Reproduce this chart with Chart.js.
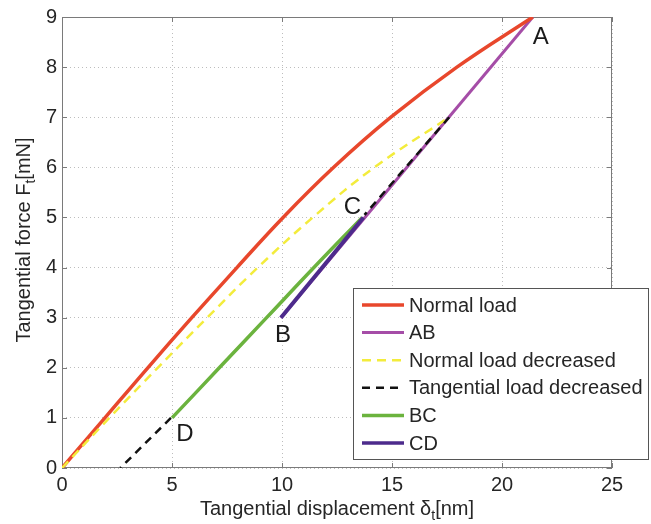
<!DOCTYPE html>
<html>
<head>
<meta charset="utf-8">
<script src="https://cdn.jsdelivr.net/npm/chart.js@4.4.1/dist/chart.umd.min.js"></script>
<style>
  html, body { margin: 0; padding: 0; background: #fff; }
  #wrap { width: 651px; height: 524px; position: relative; }
</style>
</head>
<body>
<div id="wrap"><canvas id="myChart"></canvas></div>
<script>
// tangential displacement [nm] / tangential force [mN]
const normalLoadX = [0, 1.95, 3.9, 5.9, 7.95, 10.05, 12.35, 14.95, 17.95, 21.4];
const normalLoadY = [0, 1, 2, 3, 4, 5, 6, 7, 8, 9];

const abX = [21.4, 9.95];
const abY = [9, 3];

const normalDecX = [0, 2.15, 4.35, 6.6, 8.9, 11.4, 14.2, 17.6];
const normalDecY = [0, 1, 2, 3, 4, 5, 6, 7];

// tangential unloading: upper piece (from the normal-load-decreased end) and lower piece (from D)
const tangDecUpperX = [17.6, 13.75];
const tangDecUpperY = [7, 5.05];
const tangDecLowerX = [4.95, 2.65];
const tangDecLowerY = [1, 0];

const bcX = [5, 7.15, 9.3, 11.45, 13.65];
const bcY = [1, 2, 3, 4, 5];

const cdX = [9.95, 13.7];
const cdY = [3, 5];

// named points on the loop
const pointNames = ['A', 'B', 'C', 'D'];
const pointX = [21.4, 9.95, 13.7, 5];
const pointY = [9, 3, 5, 1];

const xTicks = [0, 5, 10, 15, 20, 25];
const yTicks = [0, 1, 2, 3, 4, 5, 6, 7, 8, 9];

const FONT = '"Liberation Sans", Arial, Helvetica, sans-serif';
const TEXT = '#262626';

const toPoints = (xs, ys) => xs.map((x, i) => ({ x, y: ys[i] }));

// frame around the plot with inward tick marks on every side
const axesBox = {
    id: 'axesBox',
    beforeDatasetsDraw(chart) {
        const { ctx, chartArea: { left, right, top, bottom }, scales: { x, y } } = chart;
        ctx.save();
        ctx.strokeStyle = '#7a7a7a';
        ctx.lineWidth = 1;
        ctx.strokeRect(left + 0.5, top + 0.5, right - left - 1, bottom - top - 1);
        ctx.beginPath();
        xTicks.forEach((v) => {
            const px = Math.round(x.getPixelForValue(v)) + 0.5;
            ctx.moveTo(px, bottom); ctx.lineTo(px, bottom - 5);
            ctx.moveTo(px, top); ctx.lineTo(px, top + 5);
        });
        yTicks.forEach((v) => {
            const py = Math.round(y.getPixelForValue(v)) + 0.5;
            ctx.moveTo(left, py); ctx.lineTo(left + 5, py);
            ctx.moveTo(right, py); ctx.lineTo(right - 5, py);
        });
        ctx.stroke();
        ctx.restore();
    }
};

// text made of normal and subscript parts, centred on x
const drawParts = (ctx, parts, cx, baseline, size) => {
    const subSize = Math.round(size * 0.7);
    let total = 0;
    parts.forEach((p) => {
        ctx.font = `${p.sub ? subSize : size}px ${FONT}`;
        total += ctx.measureText(p.t).width;
    });
    let xPos = cx - total / 2;
    parts.forEach((p) => {
        ctx.font = `${p.sub ? subSize : size}px ${FONT}`;
        ctx.fillText(p.t, xPos, baseline + (p.sub ? 5 : 0));
        xPos += ctx.measureText(p.t).width;
    });
};

const axisTitles = {
    id: 'axisTitles',
    afterDraw(chart) {
        const { ctx } = chart;
        ctx.save();
        ctx.fillStyle = TEXT;
        ctx.textAlign = 'left';
        ctx.textBaseline = 'alphabetic';
        drawParts(ctx, [{ t: 'Tangential displacement δ' }, { t: 't', sub: true }, { t: '[nm]' }], 337, 515, 20);
        ctx.translate(30, 240);
        ctx.rotate(-Math.PI / 2);
        drawParts(ctx, [{ t: 'Tangential force F' }, { t: 't', sub: true }, { t: '[mN]' }], 0, 0, 20);
        ctx.restore();
    }
};

// letters next to the loop corners
const pointLetters = {
    id: 'pointLetters',
    afterDraw(chart) {
        const { ctx, scales: { x, y } } = chart;
        const offsets = { A: [8, 20], B: [2, 18], C: [-11, -10], D: [13, 16] };
        ctx.save();
        ctx.fillStyle = '#1a1a1a';
        ctx.font = `24px ${FONT}`;
        ctx.textAlign = 'center';
        ctx.textBaseline = 'middle';
        pointNames.forEach((name, i) => {
            const [dx, dy] = offsets[name];
            ctx.fillText(name, x.getPixelForValue(pointX[i]) + dx, y.getPixelForValue(pointY[i]) + dy);
        });
        ctx.restore();
    }
};

// boxed legend sitting over the lower right corner of the plot
const boxLegend = {
    id: 'boxLegend',
    afterDraw(chart) {
        const { ctx } = chart;
        const items = chart.data.datasets.filter((ds) => ds.label);
        const left = 353.5, top = 288.5, width = 295, height = 171;
        ctx.save();
        ctx.fillStyle = '#fff';
        ctx.fillRect(left, top, width, height);
        ctx.strokeStyle = '#555';
        ctx.lineWidth = 1;
        ctx.strokeRect(left, top, width, height);
        items.forEach((ds, i) => {
            const rowY = 305 + i * 27.6;
            ctx.beginPath();
            ctx.strokeStyle = ds.borderColor;
            ctx.lineWidth = Math.min(ds.borderWidth, 3.5);
            ctx.setLineDash(ds.borderDash || []);
            ctx.moveTo(362, rowY);
            ctx.lineTo(404, rowY);
            ctx.stroke();
            ctx.setLineDash([]);
            ctx.fillStyle = TEXT;
            ctx.font = `20px ${FONT}`;
            ctx.textAlign = 'left';
            ctx.textBaseline = 'middle';
            ctx.fillText(ds.label, 409, rowY + 1);
        });
        ctx.restore();
    }
};

const line = (label, data, color, width, extra) => Object.assign({
    label,
    data,
    borderColor: color,
    backgroundColor: color,
    borderWidth: width,
    pointRadius: 0,
    fill: false,
    tension: 0,
}, extra);

const ctx = document.getElementById('myChart');

new Chart(ctx, {
    type: 'line',
    data: {
        datasets: [
            line('Normal load', toPoints(normalLoadX, normalLoadY), '#e8472c', 3.5, { tension: 0.4, order: 2 }),
            line('AB', toPoints(abX, abY), '#a54da7', 3, { order: 6 }),
            line('Normal load decreased', toPoints(normalDecX, normalDecY), '#f3ec3c', 2.5, { tension: 0.4, borderDash: [9, 6], order: 1 }),
            line('Tangential load decreased', toPoints(tangDecUpperX, tangDecUpperY), '#111', 2.5, { borderDash: [8, 6], order: 0 }),
            line('BC', toPoints(bcX, bcY), '#6bb33e', 3.5, { tension: 0.4, order: 5 }),
            line('CD', toPoints(cdX, cdY), '#4d2b8c', 4, { order: 4 }),
            line('', toPoints(tangDecLowerX, tangDecLowerY), '#111', 2.5, { borderDash: [8, 6], order: 0 }),
        ]
    },
    options: {
        responsive: true,
        maintainAspectRatio: false,
        animation: false,
        layout: { padding: { top: 13, right: 39, left: 0, bottom: 0 } },
        scales: {
            x: {
                type: 'linear',
                min: 0,
                max: 25,
                afterFit(scale) { scale.height = 56; },
                afterBuildTicks(scale) { scale.ticks = xTicks.map((v) => ({ value: v })); },
                ticks: { font: { size: 20, family: FONT }, color: TEXT, padding: 5 },
                grid: { color: '#bdbdbd', lineWidth: 1, drawTicks: false },
                border: { display: false, dash: [1, 3] },
            },
            y: {
                type: 'linear',
                min: 0,
                max: 9,
                afterFit(scale) { scale.width = 62; },
                afterBuildTicks(scale) { scale.ticks = yTicks.map((v) => ({ value: v })); },
                ticks: { font: { size: 20, family: FONT }, color: TEXT, padding: 5 },
                grid: { color: '#bdbdbd', lineWidth: 1, drawTicks: false },
                border: { display: false, dash: [1, 3] },
            }
        },
        plugins: {
            legend: { display: false },
            tooltip: { enabled: false },
        }
    },
    plugins: [axesBox, axisTitles, pointLetters, boxLegend]
});
</script>
</body>
</html>
